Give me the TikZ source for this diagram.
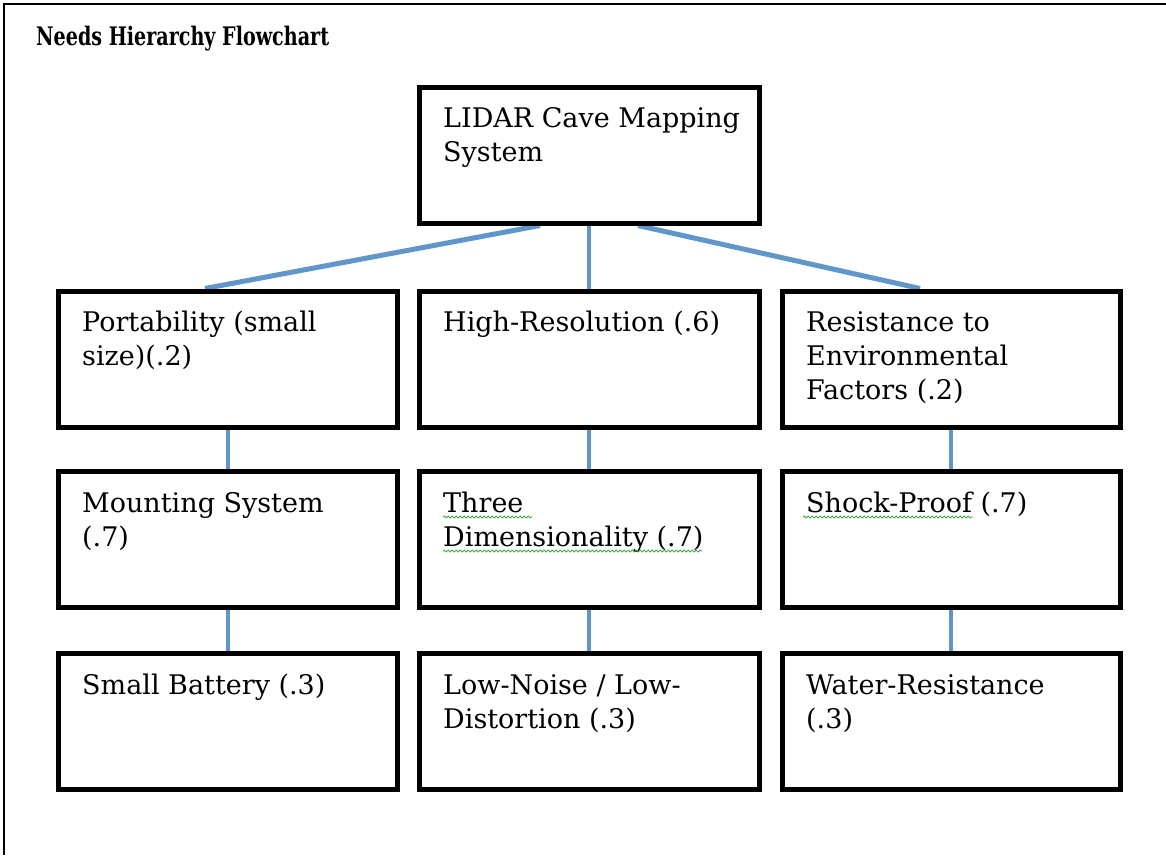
\documentclass[tikz,border=0pt]{standalone}
\usepackage{fontspec}
\setmainfont{DejaVu Serif}
\newfontfamily\titlefont[FakeStretch=0.75]{DejaVu Serif}
\usetikzlibrary{calc,decorations.pathmorphing}
\definecolor{conn}{RGB}{96,150,202}
\definecolor{squig}{RGB}{70,170,70}
\pgfdeclarelayer{bg}
\pgfsetlayers{bg,main}
\tikzset{
  box/.style={draw=black, line width=5pt, fill=white, rectangle, inner sep=0pt,
              minimum width=340pt, minimum height=136pt},
  txt/.style={anchor=base west, align=left, inner sep=0pt,
              font=\fontsize{27pt}{34pt}\selectfont},
  conline/.style={draw=conn, line width=5pt},
  vline/.style={draw=conn, line width=4pt},
  squiggle/.style={draw=squig, line width=0.9pt,
              decorate, decoration={snake, amplitude=0.9pt, segment length=4pt}},
  frame/.style={draw=black, line width=2pt}
}
\begin{document}
\begin{tikzpicture}[x=1pt, y=-1pt]
\useasboundingbox (0,0) rectangle (1166,855);
\begin{pgfonlayer}{bg}
\fill[white] (0,0) rectangle (1166,855);
\end{pgfonlayer}
% frame (top and left edges)
\coordinate (fa) at (4,855);
\coordinate (fb) at (4,4);
\coordinate (fc) at (1166,4);
\draw[frame] (fa) -- (fb) -- (fc);
% title
\node[anchor=base west, inner sep=0pt, font=\titlefont\fontsize{25.5pt}{30pt}\selectfont\bfseries] (title) at (36,45) {Needs Hierarchy Flowchart};
% boxes
\node[box] (top) at (589,155) {};
\node[box, minimum width=339pt] (p1) at (227.5,359) {};
\node[box] (p2) at (589,359) {};
\node[box, minimum width=338pt] (p3) at (951,359) {};
\node[box, minimum width=339pt] (m1) at (227.5,539) {};
\node[box] (m2) at (589,539) {};
\node[box, minimum width=338pt] (m3) at (951,539) {};
\node[box, minimum width=339pt] (b1) at (227.5,721.5) {};
\node[box] (b2) at (589,721.5) {};
\node[box, minimum width=338pt] (b3) at (951,721.5) {};
% texts (anchor = baseline of the last line)
\node[txt] (t0) at (443,161) {LIDAR Cave Mapping\\System};
\node[txt] (tp1) at (82,365) {Portability (small\\size)(.2)};
\node[txt] (tp2) at (443,331) {High-Resolution (.6)};
\node[txt] (tp3) at (806,399) {Resistance to\\Environmental\\Factors (.2)};
\node[txt] (tm1) at (82,546) {Mounting System\\(.7)};
\node[txt] (tm2) at (443,546) {Three\\Dimensionality (.7)};
\node[txt] (tm3) at (806,512) {Shock-Proof (.7)};
\node[txt] (tb1) at (82,694) {Small Battery (.3)};
\node[txt] (tb2) at (443,728) {Low-Noise / Low-\\Distortion (.3)};
\node[txt] (tb3) at (806,728) {Water-Resistance\\(.3)};
% spell-check squiggles
\coordinate (s1a) at (443,517);
\coordinate (s1b) at (532,517);
\coordinate (s2a) at (443,551);
\coordinate (s2b) at (702,551);
\coordinate (s3a) at (803,517);
\coordinate (s3b) at (973,517);
\draw[squiggle] (s1a) -- (s1b);
\draw[squiggle] (s2a) -- (s2b);
\draw[squiggle] (s3a) -- (s3b);
% connectors
\begin{pgfonlayer}{bg}
\draw[conline] ([xshift=-49pt]top.south) -- ([xshift=-22.5pt]p1.north);
\draw[vline] (top.south) -- (p2.north);
\draw[conline] ([xshift=49pt]top.south) -- ([xshift=-31pt]p3.north);
\draw[vline] (p1.south) -- (m1.north);
\draw[vline] (p2.south) -- (m2.north);
\draw[vline] (p3.south) -- (m3.north);
\draw[vline] (m1.south) -- (b1.north);
\draw[vline] (m2.south) -- (b2.north);
\draw[vline] (m3.south) -- (b3.north);
\end{pgfonlayer}
\end{tikzpicture}
\end{document}
